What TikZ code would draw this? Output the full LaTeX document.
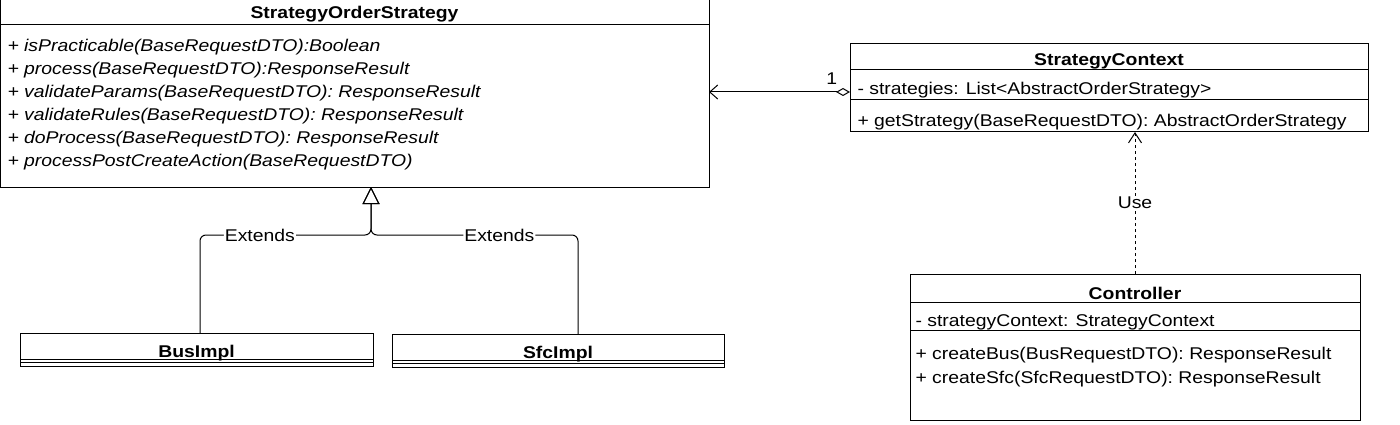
\documentclass[tikz,border=0pt]{standalone}
\usepackage{fontspec}
\setmainfont{Liberation Sans}[FakeStretch=1.14]
\usetikzlibrary{arrows.meta}
\begin{document}
\begin{tikzpicture}[x=1pt,y=-1pt, line width=1pt,
  every node/.style={font=\fontsize{17}{20}\selectfont},
  cls/.style={draw,anchor=north west,inner sep=0pt,outer sep=0pt},
  ttl/.style={anchor=base,font=\fontsize{17}{20}\selectfont\bfseries},
  mem/.style={anchor=base west,inner sep=0pt},
  lbl/.style={fill=white,inner sep=1pt},
  gen/.style={-{Triangle[open,length=17pt,width=17pt]},rounded corners=6pt},
  use/.style={-{Straight Barb[length=10pt,width=13pt]},dash pattern=on 3pt off 3pt},
  agg/.style={{Diamond[open,length=14pt,width=8pt]}-{Straight Barb[length=8pt,width=14pt]}}]
\useasboundingbox (0,0) rectangle (1400,425);
% abstract strategy
\node[cls,minimum width=709pt,minimum height=187pt] (sos) at (0,0) {};
\draw (0,25) -- (709,25);
\node[ttl] (sost) at (354.5,19) {StrategyOrderStrategy};
\foreach \m [count=\i] in {+ isPracticable(BaseRequestDTO):Boolean,
  + process(BaseRequestDTO):ResponseResult,
  + validateParams(BaseRequestDTO): ResponseResult,
  + validateRules(BaseRequestDTO): ResponseResult,
  + doProcess(BaseRequestDTO): ResponseResult,
  + processPostCreateAction(BaseRequestDTO)}
  \node[mem,font=\fontsize{17}{20}\selectfont\itshape] (sosm\i) at (7,29+\i*23) {\m};
% context
\node[cls,minimum width=518pt,minimum height=88pt] (ctx) at (850,44) {};
\draw (850,70) -- (1368,70) (850,100) -- (1368,100);
\node[ttl] (ctxt) at (1109,66) {StrategyContext};
\node[mem] (ctxa) at (857,95) {- strategies: List<AbstractOrderStrategy>};
\node[mem] (ctxm) at (857,127) {+ getStrategy(BaseRequestDTO): AbstractOrderStrategy};
% controller
\node[cls,minimum width=450pt,minimum height=146pt] (ctrl) at (910,274) {};
\draw (910,302) -- (1360,302) (910,330) -- (1360,330);
\node[ttl] (ctrlt) at (1135,299) {Controller};
\node[mem] (ctrla) at (915,326) {- strategyContext: StrategyContext};
\node[mem] (ctrlm1) at (915,359) {+ createBus(BusRequestDTO): ResponseResult};
\node[mem] (ctrlm2) at (915,383) {+ createSfc(SfcRequestDTO): ResponseResult};
% implementations
\node[cls,minimum width=353pt,minimum height=33pt] (bus) at (20,333) {};
\draw (20,359) -- (373,359) (20,362) -- (373,362);
\node[ttl] (bust) at (196.5,357.5) {BusImpl};
\node[cls,minimum width=332pt,minimum height=33pt] (sfc) at (392,334) {};
\draw (392,360) -- (724,360) (392,363) -- (724,363);
\node[ttl] (sfct) at (558,358.5) {SfcImpl};
% relations
\draw[gen] ([xshift=3.5pt]bus.north) -- (200,235) -- (371,235) node[lbl,pos=0.35] {Extends} -- ([xshift=16.5pt]sos.south);
\draw[gen] ([xshift=20pt]sfc.north) -- (578,235) -- (371,235) node[lbl,pos=0.38] {Extends} -- ([xshift=16.5pt]sos.south);
\draw[use] (ctrl.north) -- (ctrl.north |- ctx.south) node[lbl,pos=0.5] {Use};
\draw[agg] ([yshift=-4pt]ctx.west) -- ([yshift=-4pt]ctx.west -| sos.east) node[pos=0.13,above=4pt] (mult) {1};
\end{tikzpicture}
\end{document}
